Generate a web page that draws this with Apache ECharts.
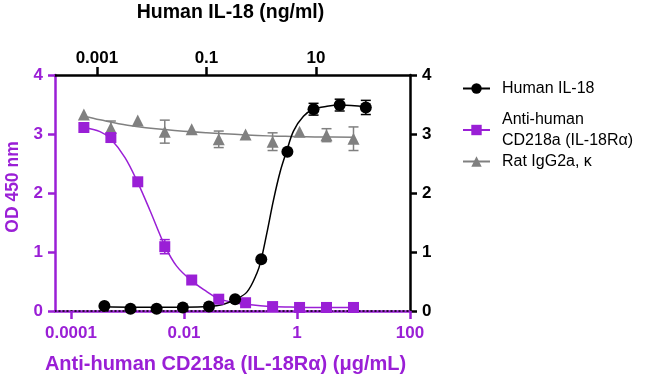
<!DOCTYPE html>
<html>
<head>
<meta charset="utf-8">
<script src="https://cdn.jsdelivr.net/npm/echarts@6/dist/echarts.min.js"></script>
<style>html,body{margin:0;padding:0;background:#fff}#c{width:650px;height:379px}</style>
</head>
<body>
<div id="c"></div>
<script>
// ---- Data ----
// Human IL-18, concentration in ng/ml (top axis), OD 450 nm (right axis)
const il18Conc = [0.00137, 0.0041, 0.0123, 0.037, 0.111, 0.333, 1, 3, 9, 27, 81];
const il18OD   = [0.085, 0.04, 0.04, 0.06, 0.075, 0.20, 0.876, 2.70, 3.42, 3.49, 3.45];
const il18Err  = [0, 0, 0, 0, 0, 0, 0, 0, 0.10, 0.10, 0.12];
// Anti-human CD218a, concentration in ug/mL (bottom axis), OD 450 nm (left axis)
const abConc = [0.000169, 0.000508, 0.00152, 0.00457, 0.0137, 0.0412, 0.123, 0.370, 1.11, 3.33, 10];
const abOD   = [3.11, 2.94, 2.19, 1.09, 0.525, 0.20, 0.14, 0.075, 0.06, 0.06, 0.06];
const abErr  = [0, 0, 0, 0.12, 0, 0, 0, 0, 0, 0, 0];
// Rat IgG2a, kappa isotype (bottom axis)
const isoOD  = [3.33, 3.10, 3.23, 3.04, 3.08, 2.91, 2.99, 2.87, 3.04, 2.98, 2.92];
const isoErr = [0, 0.12, 0, 0.195, 0, 0.14, 0, 0.15, 0, 0.11, 0.20];
// Fitted curves (log10 concentration, OD)
const il18FitLogX = [-2.866, -2.396, -1.914, -1.43, -0.963, -0.7, -0.489, -0.263, -0.08, -0.007, 0.102, 0.223, 0.345, 0.467, 0.588, 0.77, 0.953, 1.2, 1.44, 1.91];
const il18FitY    = [0.07, 0.065, 0.065, 0.065, 0.075, 0.11, 0.19, 0.32, 0.64, 0.85, 1.32, 1.88, 2.36, 2.72, 3.05, 3.30, 3.42, 3.47, 3.49, 3.46];
const abFitLogX = [-3.77, -3.487, -3.30, -3.044, -2.82, -2.60, -2.336, -2.13, -1.864, -1.598, -1.393, -1.15, -0.908, -0.437, 0.0, 0.53, 1.0];
const abFitY    = [3.11, 3.04, 2.92, 2.60, 2.18, 1.70, 1.10, 0.76, 0.51, 0.33, 0.21, 0.15, 0.115, 0.075, 0.065, 0.06, 0.06];
const isoFitLogX = [-3.77, -3.487, -3.0, -2.3, -1.6, -0.89, -0.2, 0.4, 1.0];
const isoFitY    = [3.30, 3.24, 3.15, 3.07, 3.02, 2.985, 2.96, 2.95, 2.945];
// Tick labels
const bottomTickPos = [-4, -2, 0, 2];
const bottomTickLabels = ['0.0001', '0.01', '1', '100'];
const topTickPos = [-3, -1, 1];
const topTickLabels = ['0.001', '0.1', '10'];
const yTicks = [0, 1, 2, 3, 4];

const PURPLE = '#9a1fd6';
const GRAY = '#808080';
const FONT = '"Liberation Sans", Arial, sans-serif';
const lg = Math.log10;

const il18Pts = il18Conc.map((c, i) => [lg(c), il18OD[i]]);
const abPts = abConc.map((c, i) => [lg(c), abOD[i]]);
const isoPts = abConc.map((c, i) => [lg(c), isoOD[i]]);
const errData = (conc, od, err) => conc.map((c, i) => [lg(c), od[i] - err[i], od[i] + err[i]]).filter((d, i) => err[i] > 0);

function errRender(color) {
  return function (params, api) {
    const x = api.value(0);
    const lo = api.coord([x, api.value(1)]);
    const hi = api.coord([x, api.value(2)]);
    const w = 5;
    const st = { stroke: color, lineWidth: 1.5 };
    return { type: 'group', children: [
      { type: 'line', shape: { x1: lo[0], y1: lo[1], x2: hi[0], y2: hi[1] }, style: st },
      { type: 'line', shape: { x1: lo[0] - w, y1: lo[1], x2: lo[0] + w, y2: lo[1] }, style: st },
      { type: 'line', shape: { x1: hi[0] - w, y1: hi[1], x2: hi[0] + w, y2: hi[1] }, style: st }
    ]};
  };
}

const tickText = (pos, labels) => v => { const k = pos.indexOf(Math.round(v)); return k >= 0 ? labels[k] : ''; };

const chart = echarts.init(document.getElementById('c'), null, { renderer: 'canvas' });
const option = {
  animation: false,
  textStyle: { fontFamily: FONT },
  grid: { left: 55, right: 240, top: 75, bottom: 68, containLabel: false, outerBoundsMode: 'none' },
  xAxis: [
    {
      type: 'value', position: 'bottom', min: -4.283, max: 2,
      name: 'Anti-human CD218a (IL-18Rα) (μg/mL)', nameLocation: 'middle', nameGap: 43,
      nameTextStyle: { color: PURPLE, fontWeight: 'bold', fontSize: 20, fontFamily: FONT, padding: [0, 14, 0, 0] },
      axisLine: { onZero: false, lineStyle: { color: PURPLE, width: 2.5 } },
      axisTick: { customValues: bottomTickPos, length: 8, lineStyle: { color: PURPLE, width: 2.5 } },
      axisLabel: { customValues: bottomTickPos, formatter: tickText(bottomTickPos, bottomTickLabels), color: PURPLE, fontWeight: 'bold', fontSize: 17, margin: 14, fontFamily: FONT },
      splitLine: { show: false }
    },
    {
      type: 'value', position: 'top', min: -3.765, max: 2.715,
      name: 'Human IL-18 (ng/ml)', nameLocation: 'middle', nameGap: 52,
      nameTextStyle: { color: '#000', fontWeight: 'bold', fontSize: 19.5, fontFamily: FONT, padding: [0, 4, 0, 0] },
      axisLine: { onZero: false, lineStyle: { color: '#000', width: 2.5 } },
      axisTick: { customValues: topTickPos, length: 8, lineStyle: { color: '#000', width: 2.5 } },
      axisLabel: { customValues: topTickPos, formatter: tickText(topTickPos, topTickLabels), color: '#000', fontWeight: 'bold', fontSize: 17, margin: 8, fontFamily: FONT },
      splitLine: { show: false }
    },
    {
      type: 'value', position: 'bottom', min: -4.283, max: 2,
      axisLine: { onZero: false, lineStyle: { color: '#000', width: 1.5, type: [1, 3] } },
      axisTick: { show: false }, axisLabel: { show: false }, splitLine: { show: false }
    }
  ],
  yAxis: [
    {
      type: 'value', position: 'left', min: 0, max: 4, interval: 1,
      name: 'OD 450 nm', nameLocation: 'middle', nameGap: 32,
      nameTextStyle: { color: PURPLE, fontWeight: 'bold', fontSize: 17.5, fontFamily: FONT, padding: [0, 0, 0, 12] },
      axisLine: { show: true, onZero: false, lineStyle: { color: PURPLE, width: 2.5 } },
      axisTick: { show: true, length: 7, lineStyle: { color: PURPLE, width: 2.5 } },
      axisLabel: { color: PURPLE, fontWeight: 'bold', fontSize: 17, margin: 12, fontFamily: FONT, formatter: v => String(yTicks[yTicks.indexOf(v)]) },
      splitLine: { show: false }
    },
    {
      type: 'value', position: 'right', min: 0, max: 4, interval: 1,
      axisLine: { show: true, onZero: false, lineStyle: { color: '#000', width: 2.5 } },
      axisTick: { show: true, length: 7, lineStyle: { color: '#000', width: 2.5 } },
      axisLabel: { color: '#000', fontWeight: 'bold', fontSize: 17, margin: 12, fontFamily: FONT, formatter: v => String(yTicks[yTicks.indexOf(v)]) },
      splitLine: { show: false }
    }
  ],
  legend: [
    { data: ['Human IL-18'], left: 462, top: 78 },
    { data: ['Anti-human CD218a (IL-18Rα)'], left: 462, top: 109 },
    { data: ['Rat IgG2a, κ'], left: 462, top: 151 }
  ].map(l => Object.assign(l, {
    orient: 'vertical', padding: 0, itemWidth: 27, itemHeight: 13,
    lineStyle: { width: 2 },
    textStyle: { fontSize: 16, color: '#000', fontFamily: FONT, lineHeight: 21, padding: [0, 0, 0, 7] },
    formatter: n => n === 'Anti-human CD218a (IL-18Rα)' ? 'Anti-human\nCD218a (IL-18Rα)' : n,
    selectedMode: false
  })),
  series: [
    { type: 'line', name: 'isoFit', xAxisIndex: 0, yAxisIndex: 0, data: isoFitLogX.map((x, i) => [x, isoFitY[i]]), showSymbol: false, smooth: 0.35, lineStyle: { color: GRAY, width: 1.5 }, z: 2 },
    { type: 'line', name: 'abFit', xAxisIndex: 0, yAxisIndex: 0, data: abFitLogX.map((x, i) => [x, abFitY[i]]), showSymbol: false, smooth: 0.35, lineStyle: { color: PURPLE, width: 1.5 }, z: 2 },
    { type: 'line', name: 'il18Fit', xAxisIndex: 1, yAxisIndex: 1, data: il18FitLogX.map((x, i) => [x, il18FitY[i]]), showSymbol: false, smooth: 0.35, lineStyle: { color: '#000', width: 1.5 }, z: 2 },
    { type: 'custom', name: 'isoErr', xAxisIndex: 0, yAxisIndex: 0, renderItem: errRender(GRAY), data: errData(abConc, isoOD, isoErr), encode: { x: 0, y: [1, 2] }, z: 3 },
    { type: 'custom', name: 'abErr', xAxisIndex: 0, yAxisIndex: 0, renderItem: errRender(PURPLE), data: errData(abConc, abOD, abErr), encode: { x: 0, y: [1, 2] }, z: 3 },
    { type: 'custom', name: 'il18Err', xAxisIndex: 1, yAxisIndex: 1, renderItem: errRender('#000'), data: errData(il18Conc, il18OD, il18Err), encode: { x: 0, y: [1, 2] }, z: 3 },
    { type: 'line', name: 'Rat IgG2a, κ', xAxisIndex: 0, yAxisIndex: 0, data: isoPts, symbol: 'triangle', symbolSize: 12, lineStyle: { width: 0, color: GRAY }, itemStyle: { color: GRAY }, z: 4 },
    { type: 'line', name: 'Anti-human CD218a (IL-18Rα)', xAxisIndex: 0, yAxisIndex: 0, data: abPts, symbol: 'rect', symbolSize: 11, lineStyle: { width: 0, color: PURPLE }, itemStyle: { color: PURPLE }, z: 4 },
    { type: 'line', name: 'Human IL-18', xAxisIndex: 1, yAxisIndex: 1, data: il18Pts, symbol: 'circle', symbolSize: 12, lineStyle: { width: 0, color: '#000' }, itemStyle: { color: '#000' }, z: 5 }
  ]
};
chart.setOption(option);
</script>
</body>
</html>
